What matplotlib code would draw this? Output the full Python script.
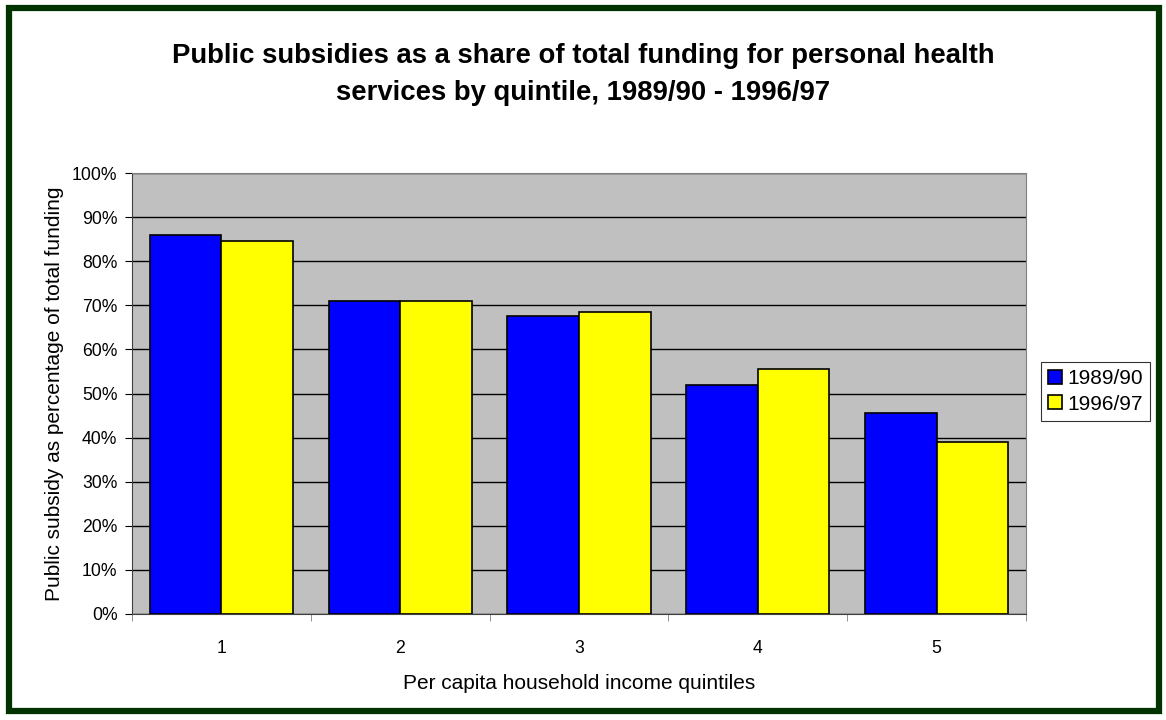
import numpy as np
import matplotlib.pyplot as plt
from matplotlib.patches import Rectangle

plt.rcParams['font.family'] = ['Liberation Sans', 'DejaVu Sans']

quintiles = ['1', '2', '3', '4', '5']
share_1989 = [86.0, 71.0, 67.5, 52.0, 45.5]
share_1996 = [84.5, 71.0, 68.5, 55.5, 39.0]
series_names = ['1989/90', '1996/97']

fig = plt.figure(figsize=(11.66, 7.2), dpi=100)
fig.patch.set_facecolor('white')
# dark green frame around the whole chart
fig.patches.append(Rectangle((0.0081, 0.0125), 0.9863, 0.9764, transform=fig.transFigure,
                             fill=False, edgecolor='#003300', linewidth=4.5))

ax = fig.add_axes([132/1166, 1 - 614/720, (1026-132)/1166, (614-173)/720])
ax.set_facecolor('#C0C0C0')

x = np.arange(len(quintiles))
w = 0.4
ax.bar(x - w/2, share_1989, w, color='#0000FF', edgecolor='black', linewidth=1.2,
       label=series_names[0], zorder=3)
ax.bar(x + w/2, share_1996, w, color='#FFFF00', edgecolor='black', linewidth=1.2,
       label=series_names[1], zorder=3)

ax.set_xlim(-0.5, len(quintiles) - 0.5)
ax.set_ylim(0, 100)
ax.set_yticks(np.arange(0, 101, 10))
ax.set_yticklabels([f'{v}%' for v in range(0, 101, 10)], fontsize=12.7)
ax.yaxis.grid(True, color='black', linewidth=1)
ax.set_axisbelow(True)

ax.set_xticks(x)
ax.set_xticklabels(quintiles, fontsize=12.7)
ax.set_xticks(np.arange(-0.5, len(quintiles)), minor=True)
ax.tick_params(axis='x', which='major', length=0, pad=19)
ax.tick_params(axis='x', which='minor', length=5, direction='out', color='#808080')
ax.tick_params(axis='y', length=5, direction='out', color='black', pad=5.5)

for s in ['top', 'right']:
    ax.spines[s].set_color('#808080')
ax.spines['left'].set_color('#404040')
ax.spines['bottom'].set_color('#404040')

ax.set_xlabel('Per capita household income quintiles', fontsize=15, labelpad=12)
ax.set_ylabel('Public subsidy as percentage of total funding', fontsize=15, labelpad=6)

fig.text(0.5, 0.896, 'Public subsidies as a share of total funding for personal health\n'
         'services by quintile, 1989/90 - 1996/97', ha='center', va='center',
         fontsize=19.8, fontweight='bold', linespacing=1.55)

leg = fig.legend(loc='upper left', bbox_to_anchor=(1041/1166, 1 - 362/720),
                 fontsize=15, frameon=True, fancybox=False, edgecolor='black',
                 handlelength=0.65, handleheight=0.65, handletextpad=0.25,
                 borderpad=0.35, labelspacing=0.3, borderaxespad=0)
leg.get_frame().set_linewidth(0.8)

fig.savefig('out.png', dpi=100, facecolor='white')
